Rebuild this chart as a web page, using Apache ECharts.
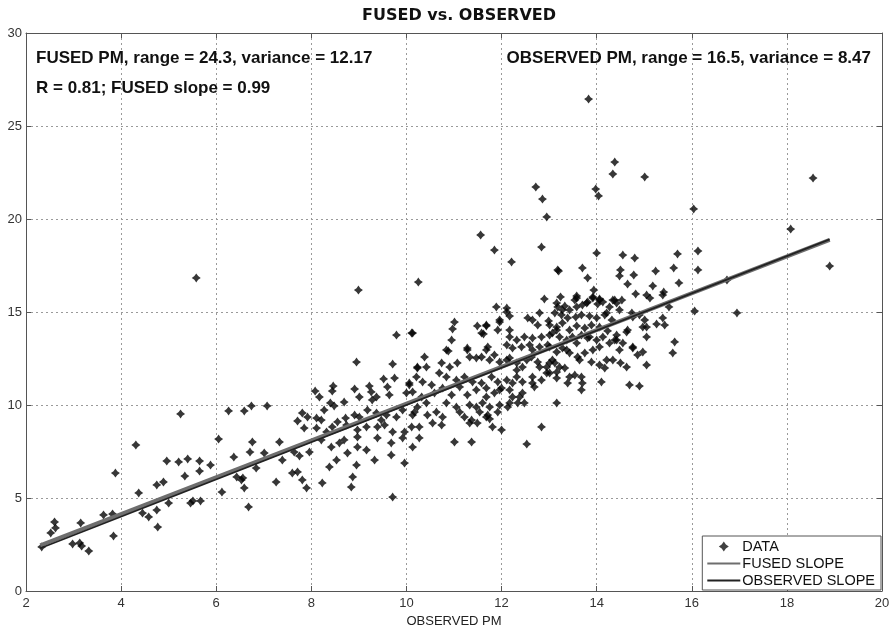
<!DOCTYPE html>
<html>
<head>
<meta charset="utf-8">
<script src="https://cdn.jsdelivr.net/npm/echarts@6/dist/echarts.min.js"></script>
<style>
  html, body { margin: 0; padding: 0; background: #fff; }
  #chart { width: 893px; height: 626px; }
</style>
</head>
<body>
<div id="chart"></div>
<script>
// Observed PM (x) vs fused PM (y), one pair per site
const dataPoints = [
  [5.58,16.83],[8.99,16.18],[10.25,16.61],[13.83,26.45],[12.72,21.72],[12.86,21.07],[12.95,20.11],[12.84,18.49],
  [11.56,19.14],[11.85,18.33],[12.21,17.69],[13.18,17.26],[12.9,15.7],[11.89,15.27],[12.11,15.21],[18.55,22.2],
  [16.04,20.54],[18.08,19.46],[18.9,17.47],[15.7,18.12],[16.13,18.28],[15.62,17.37],[16.13,17.26],[15.73,16.56],
  [15.41,16.07],[15.39,15.91],[15.52,15.27],[16.06,15.05],[16.95,14.95],[15.39,14.68],[15.43,14.3],[15.64,13.39],
  [15.6,12.8],[16.74,16.72],[14.38,23.06],[14.34,22.42],[15.01,22.26],[13.98,21.61],[14.04,21.24],[14.0,18.17],
  [14.55,18.06],[14.8,17.9],[13.2,17.2],[13.7,17.37],[13.81,16.83],[14.5,17.26],[14.48,16.94],[14.78,16.99],
  [14.65,16.5],[15.24,17.2],[13.94,16.18],[14.06,15.7],[14.34,15.64],[14.82,15.97],[15.18,16.4],[15.05,15.91],
  [15.05,14.19],[15.12,15.75],
  [13.24,15.81],[13.58,15.86],[13.54,15.64],[13.18,15.27],[13.33,15.32],[13.43,15.11],[13.58,15.27],[13.7,15.38],
  [13.81,15.54],[13.92,15.75],[14.02,15.43],[14.13,15.54],[14.27,15.27],[14.42,15.48],[14.53,15.64],[13.12,14.95],
  [13.26,14.84],[13.39,14.68],[13.56,14.73],[13.68,14.84],[13.85,14.78],[14.0,14.68],[14.17,14.84],[14.32,14.57],
  [14.74,14.95],[14.9,14.84],[15.01,14.57],[15.26,14.35],[13.01,14.3],[13.16,14.19],[13.28,14.41],[13.43,14.03],
  [13.58,14.25],[13.75,14.14],[13.89,14.3],[14.06,14.19],[14.23,13.98],[14.42,13.76],[14.63,13.92],[13.07,13.87],
  [13.22,13.66],[13.37,13.49],[13.49,13.66],[13.68,13.76],[13.81,13.6],[14.0,13.49],[14.13,13.66],[14.27,13.33],
  [14.38,13.49],[14.55,13.33],[14.76,13.06],[14.86,12.69],[14.97,12.85],[13.01,13.12],[13.16,12.85],[13.28,13.06],
  [13.43,12.8],[13.6,12.58],[13.75,12.8],[13.89,12.31],[14.06,12.15],[14.17,11.99],[14.34,12.42],[14.5,12.26],
  [14.63,12.04],[15.05,12.15],[13.01,12.26],[13.16,11.77],[13.33,11.99],[13.43,11.51],[13.54,11.61],[13.68,11.51],
  [13.39,11.18],[13.68,10.81],[14.1,11.24],[14.69,11.08],[14.9,11.02],[13.16,10.11],
  [10.13,13.87],[11.01,14.46],[10.97,14.09],[11.49,14.25],[11.68,14.25],[11.62,13.82],[11.96,14.46],[11.92,14.03],
  [12.17,14.78],[12.55,14.68],[12.76,14.3],[12.99,14.52],[10.95,13.49],[11.28,13.06],[11.71,13.12],[10.88,12.9],
  [12.17,13.66],[12.32,13.49],[12.48,13.66],[12.65,13.6],[12.84,13.66],[13.01,13.76],[13.16,14.03],[12.11,13.23],
  [12.23,13.06],[12.42,13.12],[12.59,13.23],[12.8,13.12],[12.97,13.23],[10.38,12.58],[10.23,12.04],[10.42,12.04],
  [10.74,12.26],[10.91,12.04],[11.07,12.26],[11.33,12.58],[11.47,12.53],[11.58,12.58],[11.75,12.42],[11.85,12.69],
  [11.96,12.31],[12.17,12.53],[12.32,12.26],[12.44,12.04],[12.63,12.58],[12.76,12.31],[12.95,12.04],[13.12,12.26],
  [10.06,11.18],[10.21,11.51],[10.34,11.24],[10.53,11.08],[10.69,11.72],[10.84,11.51],[11.05,11.34],[11.22,11.51],
  [11.39,11.24],[11.58,11.18],[11.79,11.51],[11.92,11.24],[12.11,11.34],[12.32,11.51],[12.44,11.24],[12.65,11.51],
  [12.84,11.34],[13.01,11.72],[13.16,11.45],[10.13,10.7],[10.32,10.43],[10.59,10.65],[10.76,10.91],[10.95,10.54],
  [11.12,10.97],[11.28,10.54],[11.47,10.81],[11.68,10.91],[11.85,10.65],[12.0,10.91],[12.17,10.81],[12.23,10.43],
  [12.44,10.65],[12.69,10.97],[10.42,10.11],[10.84,10.11],[11.05,9.89],[11.33,10.0],[11.6,10.11],[11.75,9.89],
  [11.96,10.0],[12.17,10.11],[12.34,10.11],[12.48,10.11],[10.17,9.62],[10.44,9.46],[10.63,9.62],[10.76,9.35],
  [11.12,9.62],[11.22,9.35],[11.37,9.19],[11.54,9.62],[11.71,9.46],[11.75,9.25],[11.92,9.62],[10.27,8.82],
  [10.55,9.03],[10.74,8.92],[11.49,9.03],[12.0,8.66],[12.84,8.82],[10.27,8.23],[11.01,8.01],[11.37,8.01],
  [12.53,7.9],
  [12.11,15.0],[11.96,14.57],[12.17,14.03],[11.68,14.3],[11.58,13.87],[11.28,12.96],[10.84,12.96],[11.68,12.96],
  [12.65,14.57],[12.8,14.95],[13.16,15.48],[13.28,15.11],[13.58,15.75],[13.79,15.48],[13.92,15.81],[14.06,15.64],
  [14.38,15.64],[14.21,14.95],[14.48,15.11],[14.76,14.73],[14.97,14.19],[15.05,13.66],[14.65,14.03],[14.42,13.49],
  [14.06,13.12],[13.85,13.66],[13.58,13.33],[13.37,12.96],[13.07,12.42],[12.8,12.04],[12.65,12.96],[12.53,12.42],
  [12.32,11.88],[12.11,12.42],[12.23,11.18],[11.96,10.81],[11.68,10.43],[11.47,9.89],[11.68,9.35],[11.33,9.03],
  [11.81,8.82],[12.13,9.89],[12.38,10.43],[12.65,11.18],[12.95,11.72],[13.22,12.04],[13.64,12.42],[13.92,12.96],
  [14.21,12.42],[14.48,12.96],[14.76,13.12],[13.7,11.18],
  [9.79,13.76],[10.11,13.87],[8.95,12.31],[9.71,12.2],[10.23,11.99],[9.52,11.4],[9.75,11.45],[8.08,10.75],
  [8.46,11.02],[8.44,10.75],[8.17,10.43],[8.4,10.11],[8.69,10.16],[8.91,10.86],[9.01,10.43],[9.22,11.02],
  [9.26,10.7],[9.37,10.43],[9.6,10.97],[9.64,10.54],[10.0,10.65],[10.06,11.08],[6.59,9.68],[6.74,9.95],
  [7.07,9.95],[7.71,9.14],[7.81,9.57],[7.92,9.35],[7.85,8.76],[8.11,9.3],[8.21,9.19],[8.27,9.73],
  [8.48,9.95],[8.55,9.09],[8.72,9.3],[8.91,9.46],[9.01,9.35],[9.18,9.73],[9.28,10.27],[9.37,9.57],
  [9.47,9.19],[9.58,9.46],[9.79,9.35],[9.92,9.73],[10.13,9.46],[10.23,9.89],[8.11,8.76],[8.32,8.55],
  [8.44,8.82],[8.74,8.92],[8.97,8.66],[9.16,8.82],[9.39,8.82],[9.54,8.92],[9.71,8.55],[9.96,8.55],
  [10.11,8.82],[8.21,8.12],[8.42,7.74],[8.59,7.96],[8.69,8.12],[8.97,8.28],[8.97,7.74],[9.16,7.58],
  [9.39,8.23],[9.68,7.96],[9.92,8.23],[10.13,7.74],[6.76,8.01],[7.33,8.01],[7.01,7.42],[7.39,7.04],
  [7.64,7.47],[7.75,7.26],[7.96,7.47],[6.84,6.61],[7.6,6.34],[7.71,6.4],[7.26,5.86],[7.81,5.97],
  [8.38,6.67],[8.53,7.04],[8.76,7.42],[8.87,6.13],[8.95,6.77],[9.33,7.04],[9.68,7.31],[9.96,6.88],
  [8.23,5.81],[8.84,5.59],[6.53,5.97],[6.59,5.54],[7.9,5.54],[9.71,5.05],
  [2.33,2.37],[2.52,3.12],[2.6,3.71],[2.62,3.39],[2.98,2.53],[3.13,2.58],[3.17,2.42],[3.32,2.15],
  [3.15,3.66],[3.63,4.09],[3.82,4.14],[3.84,2.96],[3.88,6.34],[4.31,7.85],[4.37,5.27],[4.45,4.19],
  [4.58,3.98],[4.75,5.7],[4.75,4.35],[4.77,3.44],[4.89,5.86],[4.96,6.99],[5.0,4.73],[5.21,6.94],
  [5.25,9.52],[5.34,6.18],[5.4,7.1],[5.46,4.73],[5.51,4.84],[5.65,6.99],[5.65,6.45],[5.67,4.84],
  [5.88,6.77],[6.05,8.17],[6.12,5.32],[6.26,9.68],[6.37,7.2],[6.43,6.13],[6.56,6.08],[6.68,4.52],
  [6.71,7.47]
];

// Fitted lines, end points over the observed range
const fusedSlopeLine = [[2.3, 2.45], [18.9, 18.88]];
const observedSlopeLine = [[2.3, 2.3], [18.9, 18.9]];

const xTicks = { min: 2, max: 20, step: 2 };
const yTicks = { min: 0, max: 30, step: 5 };

const titleText = 'FUSED vs. OBSERVED';
const fusedNote = 'FUSED PM, range = 24.3, variance = 12.17';
const slopeNote = 'R = 0.81; FUSED slope = 0.99';
const observedNote = 'OBSERVED PM, range = 16.5, variance = 8.47';
const xAxisName = 'OBSERVED PM';

const FONT = '"Liberation Sans", Arial, sans-serif';
const starMarker = 'path://M0,-10 L4.2,-4.2 L10,0 L4.2,4.2 L0,10 L-4.2,4.2 L-10,0 L-4.2,-4.2 Z';
const lineIcon = 'path://M0,0 H32 V1.8 H0 Z';

const chart = echarts.init(document.getElementById('chart'), null, { renderer: 'canvas' });

const gridLine = { show: true, lineStyle: { color: '#9a9a9a', type: [2, 3], width: 1 } };
const boxAxisLine = { show: true, onZero: false, lineStyle: { color: '#555', width: 1 } };
const innerTick = { show: true, inside: true, length: 5, lineStyle: { color: '#555' } };
const noteStyle = { fontSize: 17, fontWeight: 'bold', color: '#111', fontFamily: FONT };

chart.setOption({
  animation: false,
  backgroundColor: '#fff',
  textStyle: { fontFamily: FONT },
  title: [
    { text: titleText, left: 454, textAlign: 'center', top: 3,
      textStyle: { fontSize: 16, fontWeight: 'bold', color: '#111', fontFamily: '"DejaVu Sans", sans-serif' } },
    { text: fusedNote, left: 31, top: 45, textStyle: noteStyle },
    { text: slopeNote, left: 31, top: 75, textStyle: noteStyle },
    { text: observedNote, right: 17, top: 45, textStyle: noteStyle }
  ],
  grid: { left: 26, right: 11, top: 33, bottom: 35, containLabel: false, outerBoundsMode: 'none' },
  legend: {
    orient: 'vertical', right: 12, bottom: 36,
    backgroundColor: '#fff', borderColor: '#555', borderWidth: 1,
    padding: [3, 6, 2, 5], itemGap: 2, itemWidth: 33, itemHeight: 10,
    textStyle: { fontSize: 14.5, color: '#111', fontFamily: FONT, padding: [0, 0, 0, -3] },
    data: [
      { name: 'DATA', icon: starMarker, itemStyle: { color: '#111' } },
      { name: 'FUSED SLOPE', icon: lineIcon },
      { name: 'OBSERVED SLOPE', icon: lineIcon }
    ]
  },
  xAxis: [
    { type: 'value', min: xTicks.min, max: xTicks.max, interval: xTicks.step, position: 'bottom',
      name: xAxisName, nameLocation: 'middle', nameGap: 23,
      nameTextStyle: { fontSize: 13, color: '#222', fontFamily: FONT },
      axisLine: boxAxisLine, axisTick: innerTick, splitLine: gridLine,
      axisLabel: { fontSize: 13, color: '#333', margin: 6, fontFamily: FONT } },
    { type: 'value', min: xTicks.min, max: xTicks.max, interval: xTicks.step, position: 'top',
      axisLine: boxAxisLine, axisTick: innerTick, splitLine: { show: false }, axisLabel: { show: false } }
  ],
  yAxis: [
    { type: 'value', min: yTicks.min, max: yTicks.max, interval: yTicks.step, position: 'left',
      axisLine: boxAxisLine, axisTick: innerTick, splitLine: gridLine,
      axisLabel: { fontSize: 13, color: '#333', margin: 4, fontFamily: FONT } },
    { type: 'value', min: yTicks.min, max: yTicks.max, interval: yTicks.step, position: 'right',
      axisLine: boxAxisLine, axisTick: innerTick, splitLine: { show: false }, axisLabel: { show: false } }
  ],
  series: [
    { name: 'DATA', type: 'scatter', data: dataPoints, symbol: starMarker, symbolSize: 9,
      itemStyle: { color: '#050505' }, z: 3 },
    { name: 'FUSED SLOPE', type: 'line', data: fusedSlopeLine, symbol: 'none',
      lineStyle: { color: '#6e6e6e', width: 4 }, itemStyle: { color: '#6e6e6e' }, z: 4 },
    { name: 'OBSERVED SLOPE', type: 'line', data: observedSlopeLine, symbol: 'none',
      lineStyle: { color: '#222', width: 1.8 }, itemStyle: { color: '#222' }, z: 5 }
  ]
});
</script>
</body>
</html>
